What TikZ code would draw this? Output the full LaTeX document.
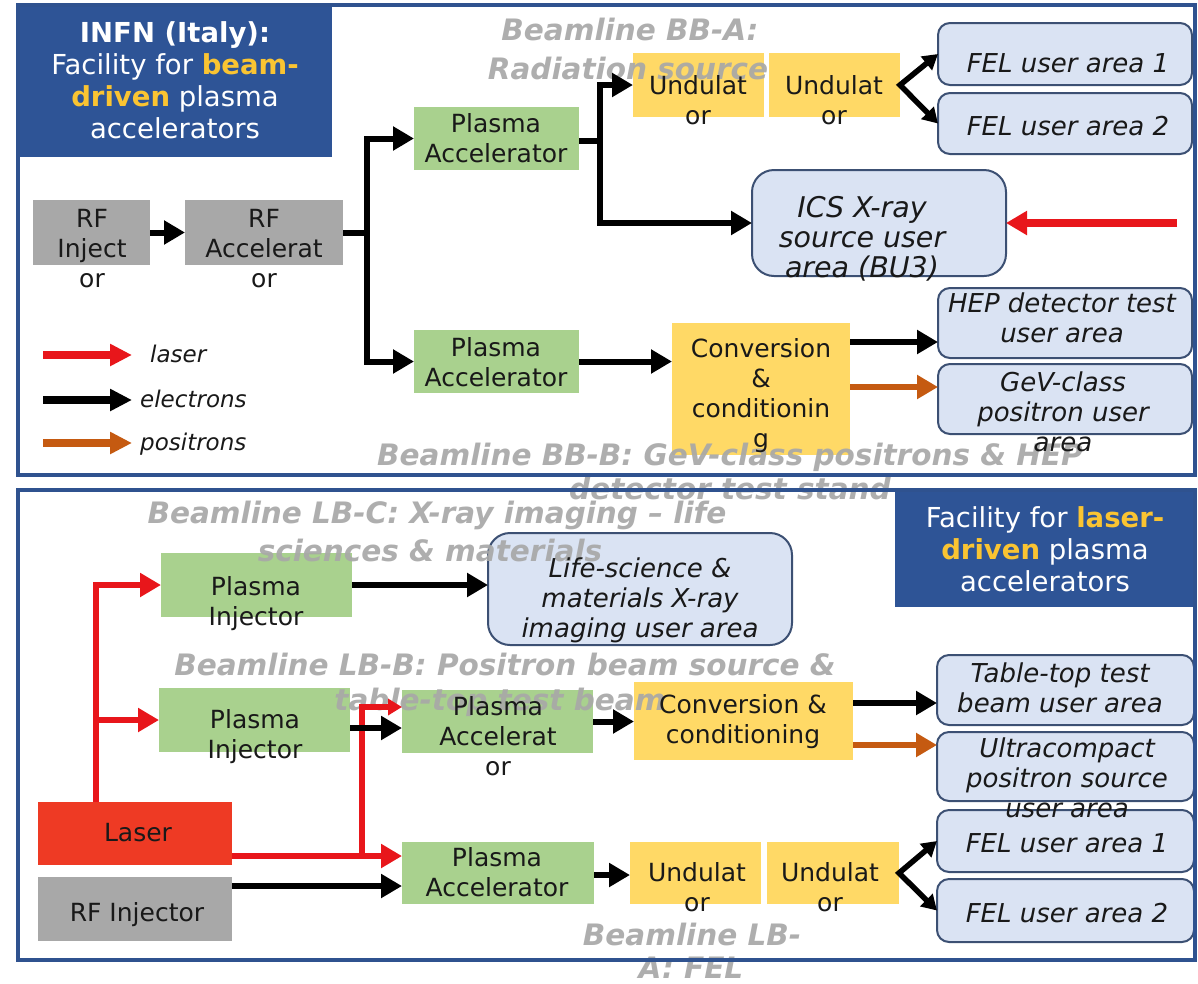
\documentclass[tikz,border=0pt]{standalone}
\usepackage{fontspec}
\setmainfont{DejaVu Sans}[BoldFont={DejaVu Sans Bold},ItalicFont={DejaVu Sans Oblique},BoldItalicFont={DejaVu Sans Bold Oblique}]
\usetikzlibrary{arrows.meta}
\definecolor{frameblue}{RGB}{47,82,143}
\definecolor{titleblue}{RGB}{46,84,150}
\definecolor{gold}{RGB}{250,196,50}
\definecolor{rfgray}{RGB}{168,168,168}
\definecolor{pgreen}{RGB}{169,209,142}
\definecolor{uyellow}{RGB}{255,217,102}
\definecolor{ublue}{RGB}{218,227,243}
\definecolor{uborder}{RGB}{60,80,115}
\definecolor{lred}{RGB}{232,22,27}
\definecolor{laserfill}{RGB}{238,58,36}
\definecolor{porange}{RGB}{197,90,17}
\definecolor{labgray}{RGB}{168,168,168}
\definecolor{txtc}{RGB}{25,25,25}
\begin{document}
\begin{tikzpicture}[x=1pt,y=-1pt,
  box/.style={rectangle,inner sep=0pt,outer sep=0pt,draw=none},
  graybox/.style={box,fill=rfgray},
  greenbox/.style={box,fill=pgreen},
  yellowbox/.style={box,fill=uyellow},
  laserbox/.style={box,fill=laserfill},
  titlebox/.style={box,fill=titleblue},
  userbox/.style={rectangle,inner sep=0pt,outer sep=0pt,rounded corners=12pt,fill=ublue,draw=uborder,line width=2pt},
  txt/.style={font=\fontsize{25}{30}\selectfont,align=center,inner sep=0pt,text=txtc,
     execute at begin node=\strut,execute at end node=\strut},
  utxt/.style={txt,font=\fontsize{26}{30}\itshape\selectfont},
  ttxt/.style={font=\fontsize{27.5}{32}\selectfont,align=center,inner sep=0pt,text=white,
     execute at begin node=\strut,execute at end node=\strut},
  glab/.style={font=\fontsize{29.5}{36}\bfseries\itshape\selectfont,text=labgray,anchor=base,inner sep=0pt,opacity=0.92},
  legtxt/.style={font=\fontsize{23}{28}\itshape\selectfont,text=txtc,anchor=base west,inner sep=0pt},
  earr/.style={draw=black,line width=6pt,-{Triangle[length=21pt,width=23pt]}},
  eline/.style={draw=black,line width=6pt},
  lasarr/.style={draw=lred,line width=6pt,-{Triangle[length=21pt,width=23pt]}},
  posarr/.style={draw=porange,line width=6pt,-{Triangle[length=21pt,width=23pt]}},
  forkarr/.style={draw=black,line width=5.5pt,line join=miter,{Triangle[length=15pt,width=17pt]}-{Triangle[length=15pt,width=17pt]}},
  legarr/.style={line width=8pt,-{Triangle[length=22pt,width=21pt]}},
  frame/.style={draw=frameblue,line width=3.5pt}
]
\useasboundingbox[fill=white] (0,0) rectangle (1198,983);

% ---------------- top panel boxes
\node[titlebox, minimum width=314, minimum height=152] (titleA) at (175,81) {};
\node[graybox, minimum width=117, minimum height=65] (rfi) at (91.5,232.5) {};
\node[graybox, minimum width=158, minimum height=65] (rfa) at (264,232.5) {};
\node[greenbox, minimum width=165, minimum height=63] (paT) at (496.5,138.5) {};
\node[greenbox, minimum width=165, minimum height=63] (paB) at (496.5,361.5) {};
\node[yellowbox, minimum width=131, minimum height=64] (u1) at (698.5,85) {};
\node[yellowbox, minimum width=131, minimum height=64] (u2) at (834.5,85) {};
\node[userbox, minimum width=254, minimum height=62] (fel1) at (1065,54) {};
\node[userbox, minimum width=254, minimum height=61] (fel2) at (1065,123.5) {};
\node[userbox, rounded corners=22pt, minimum width=254, minimum height=106] (ics) at (879,223) {};
\node[userbox, minimum width=254, minimum height=70] (hep) at (1065,323) {};
\node[userbox, minimum width=254, minimum height=70] (gev) at (1065,399) {};
\node[yellowbox, minimum width=178, minimum height=132] (conv) at (761,389) {};

% ---------------- bottom panel boxes
\node[greenbox, minimum width=191, minimum height=64] (piA) at (256.5,585) {};
\node[greenbox, minimum width=191, minimum height=64] (piB) at (254.5,720) {};
\node[laserbox, minimum width=194, minimum height=63] (laser) at (135,833.5) {};
\node[graybox, minimum width=194, minimum height=64] (rfinj) at (135,909) {};
\node[greenbox, minimum width=191, minimum height=63] (paM) at (497.5,721.5) {};
\node[greenbox, minimum width=192, minimum height=62] (paL) at (498,873) {};
\node[yellowbox, minimum width=219, minimum height=78] (convB) at (743.5,721) {};
\node[userbox, rounded corners=22pt, minimum width=304, minimum height=112] (life) at (640,589) {};
\node[userbox, minimum width=257, minimum height=70] (ttb) at (1065.5,690) {};
\node[userbox, minimum width=257, minimum height=69] (ucp) at (1065.5,766.5) {};
\node[userbox, minimum width=257, minimum height=62] (felb1) at (1065.5,841) {};
\node[userbox, minimum width=257, minimum height=63] (felb2) at (1065.5,910.5) {};
\node[yellowbox, minimum width=131, minimum height=62] (ub1) at (695.5,873) {};
\node[yellowbox, minimum width=132, minimum height=62] (ub2) at (833,873) {};

% ---------------- grey beamline labels
\node[glab] (gA1) at (630,40) {Beamline BB-A:};
\node[glab] (gA2) at (628,79) {Radiation source};
\node[glab] (gB1) at (730,465) {Beamline BB-B: GeV-class positrons \& HEP};
\node[glab] (gB2) at (730,499) {detector test stand};
\node[glab] (gC1) at (437,523) {Beamline LB-C: X-ray imaging – life};
\node[glab] (gC2) at (430,561) {sciences \& materials};
\node[glab] (gD1) at (505,675) {Beamline LB-B: Positron beam source \&};
\node[glab] (gD2) at (500,710) {table-top test beam};
\node[glab] (gE1) at (692,945) {Beamline LB-};
\node[glab] (gE2) at (691,978) {A: FEL};

% ---------------- texts top
\node[ttxt] (tTA) at (175,84.6) {{\bfseries INFN (Italy):}\\Facility for {\bfseries\color{gold}beam-}\\{\bfseries\color{gold}driven} plasma\\accelerators};
\node[txt] (tRFI) at (92,253) {RF\\Inject\\or};
\node[txt] (tRFA) at (264,253) {RF\\Accelerat\\or};
\node[txt] (tPAT) at (496,142) {Plasma\\Accelerator};
\node[txt] (tPAB) at (496,366.5) {Plasma\\Accelerator};
\node[txt] (tU1) at (698,104) {Undulat\\or};
\node[txt] (tU2) at (834,104) {Undulat\\or};
\node[utxt] (tFEL1) at (1068,66) {FEL user area 1};
\node[utxt] (tFEL2) at (1068,129) {FEL user area 2};
\node[utxt,font=\fontsize{28.5}{30}\itshape\selectfont] (tICS) at (862,241) {ICS X-ray\\source user\\area (BU3)};
\node[utxt] (tHEP) at (1062,322) {HEP detector test\\user area};
\node[utxt] (tGEV) at (1063,416.5) {GeV-class\\positron user\\area};
\node[txt] (tCONV) at (761,397) {Conversion\\\&\\conditionin\\g};

% ---------------- texts bottom
\node[txt] (tPIA) at (256,605) {Plasma\\Injector};
\node[txt] (tPIB) at (255,738) {Plasma\\Injector};
\node[txt] (tLAS) at (138,835) {Laser};
\node[txt] (tRFJ) at (137,915) {RF Injector};
\node[txt] (tPAM) at (498,740) {Plasma\\Accelerat\\or};
\node[txt] (tPAL) at (497,876) {Plasma\\Accelerator};
\node[txt] (tCVB) at (743,723) {Conversion \&\\conditioning};
\node[utxt] (tLIFE) at (640,602.5) {Life-science \&\\materials X-ray\\imaging user area};
\node[utxt] (tTTB) at (1060,692) {Table-top test\\beam user area};
\node[utxt] (tUCP) at (1067,782) {Ultracompact\\positron source\\user area};
\node[utxt] (tFB1) at (1067,846) {FEL user area 1};
\node[utxt] (tFB2) at (1067,916) {FEL user area 2};
\node[txt] (tUB1) at (697,891) {Undulat\\or};
\node[txt] (tUB2) at (830,891) {Undulat\\or};

% ---------------- legend
\coordinate (lg1s) at (43,355); \coordinate (lg1e) at (132,355);
\coordinate (lg2s) at (43,400); \coordinate (lg2e) at (132,400);
\coordinate (lg3s) at (43,443); \coordinate (lg3e) at (132,443);
\draw[legarr,draw=lred] (lg1s) -- (lg1e);
\draw[legarr,draw=black] (lg2s) -- (lg2e);
\draw[legarr,draw=porange] (lg3s) -- (lg3e);
\node[legtxt] (lgt1) at (150,362) {laser};
\node[legtxt] (lgt2) at (140,407) {electrons};
\node[legtxt] (lgt3) at (140,450) {positrons};

% ---------------- connectors top
\draw[earr] (rfi.east) -- (rfa.west);
\coordinate (jA) at (367,232.5);
\draw[eline] (rfa.east) -- (jA);
\draw[earr] (jA) |- (paT.west);
\draw[earr] (jA) |- (paB.west);
\coordinate (jB) at (600,141);
\draw[eline] (paT.east |- jB) -- (jB);
\draw[earr] (jB) |- (u1.west);
\draw[earr] (jB) |- (ics.west);
\draw[forkarr] (fel1.west) -- (u2.east) -- (fel2.west);
\coordinate (icsR) at (1177,223);
\draw[lasarr,line width=7.5pt] (icsR) -- (ics.east);
\draw[earr] (paB.east) -- (paB.east -| conv.west);
\coordinate (y342) at (0,342);
\coordinate (y387) at (0,387);
\draw[earr] (conv.east |- y342) -- (hep.west |- y342);
\draw[posarr] (conv.east |- y387) -- (gev.west |- y387);

% ---------------- connectors bottom
\coordinate (lx) at (96,0);
\draw[lasarr] (lx |- laser.north) |- (piA.west);
\draw[lasarr] (lx |- piB.west) -- (piB.west);
\coordinate (ly) at (0,856);
\draw[lasarr] (laser.east |- ly) -- (paL.west |- ly);
\coordinate (lz) at (362,856);
\coordinate (yP) at (0,707);
\draw[draw=lred,line width=6pt,-{Triangle[length=14pt,width=16pt]}] (lz) |- (paM.west |- yP);
\draw[earr] (piA.east) -- (piA.east -| life.west);
\coordinate (y728) at (0,728);
\draw[earr] (piB.east |- y728) -- (paM.west |- y728);
\draw[earr] (paM.east) -- (paM.east -| convB.west);
\coordinate (y703) at (0,703);
\coordinate (y745) at (0,745);
\draw[earr] (convB.east |- y703) -- (ttb.west |- y703);
\draw[posarr] (convB.east |- y745) -- (ucp.west |- y745);
\coordinate (y886) at (0,886);
\draw[earr] (rfinj.east |- y886) -- (paL.west |- y886);
\coordinate (y875) at (0,875);
\draw[earr] (paL.east |- y875) -- (ub1.west |- y875);
\draw[forkarr] (felb1.west) -- (ub2.east) -- (felb2.west);

% ---------------- bottom title and frames
\node[titlebox, minimum width=300, minimum height=117] (titleB) at (1045,548.5) {};
\node[ttxt] (tTB) at (1045,553.6) {Facility for {\bfseries\color{gold}laser-}\\{\bfseries\color{gold}driven} plasma\\accelerators};
\draw[frame] (18,5) rectangle (1195,475);
\draw[frame] (18,490) rectangle (1195,960);
\end{tikzpicture}
\end{document}
